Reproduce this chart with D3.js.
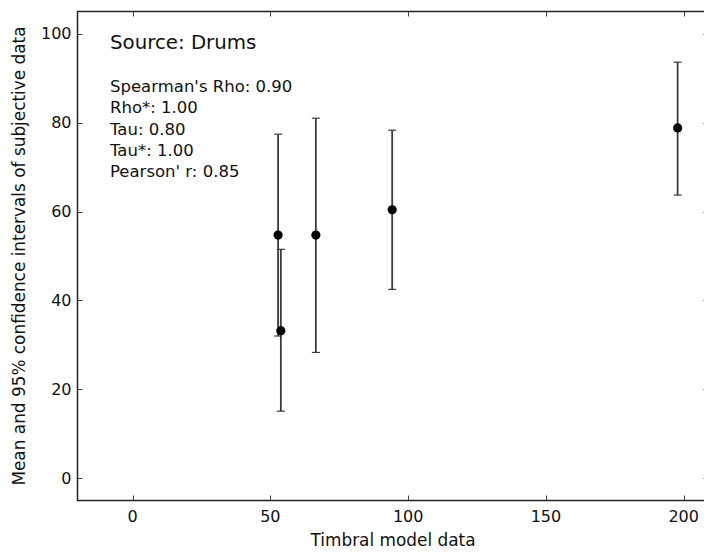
<!DOCTYPE html>
<html>
<head>
<meta charset="utf-8">
<script src="https://cdn.jsdelivr.net/npm/d3@7"></script>
<style>
  body { margin: 0; background: #fff; }
  text { font-family: "DejaVu Sans", sans-serif; fill: #111; }
</style>
</head>
<body>
<div id="chart"></div>
<script>
  // values
  const timbral = [52.8, 53.8, 66.5, 94.2, 197.8]
  const means = [54.7, 33.2, 54.7, 60.4, 78.8]
  const ciLow = [32.0, 15.1, 28.3, 42.5, 63.7]
  const ciHigh = [77.4, 51.5, 81.0, 78.3, 93.6]
  const xTicks = [0, 50, 100, 150, 200]
  const yTicks = [0, 20, 40, 60, 80, 100]
  const sourceLabel = "Source: Drums"
  const statLines = ["Spearman's Rho: 0.90", "Rho*: 1.00", "Tau: 0.80", "Tau*: 1.00", "Pearson' r: 0.85"]

  const width = 704
  const height = 552
  const plotLeft = 77.5, plotRight = 708.5, plotTop = 11.5, plotBottom = 500.5

  const svg = d3.select("#chart")
    .append("svg")
    .attr("width", width)
    .attr("height", height)

  const x = d3.scaleLinear().domain([-20, 209]).range([plotLeft, plotRight])
  const y = d3.scaleLinear().domain([-5, 105]).range([plotBottom, plotTop])

  const points = timbral.map((t, i) => ({ x: t, mean: means[i], lo: ciLow[i], hi: ciHigh[i] }))

  // inward ticks on all four sides, classic matplotlib look
  const tickLen = 5
  const ticks = svg.append("g").attr("stroke", "#444").attr("stroke-width", 1)
  xTicks.forEach(v => {
    const px = Math.round(x(v)) + 0.5
    ticks.append("line").attr("x1", px).attr("x2", px).attr("y1", plotBottom).attr("y2", plotBottom - tickLen)
    ticks.append("line").attr("x1", px).attr("x2", px).attr("y1", plotTop).attr("y2", plotTop + tickLen)
  })
  yTicks.forEach(v => {
    const py = Math.round(y(v)) + 0.5
    ticks.append("line").attr("x1", plotLeft).attr("x2", plotLeft + tickLen).attr("y1", py).attr("y2", py)
    ticks.append("line").attr("x1", plotRight).attr("x2", plotRight - tickLen).attr("y1", py).attr("y2", py)
  })

  // tick labels
  svg.append("g")
    .attr("font-size", 16)
    .attr("text-anchor", "middle")
    .selectAll("text")
    .data(xTicks)
    .join("text")
      .attr("x", d => x(d))
      .attr("y", plotBottom + 21)
      .text(d => d)

  svg.append("g")
    .attr("font-size", 16)
    .attr("text-anchor", "end")
    .selectAll("text")
    .data(yTicks)
    .join("text")
      .attr("x", plotLeft - 6)
      .attr("y", d => y(d))
      .attr("dy", "0.36em")
      .text(d => d)

  // error bars
  const bars = svg.append("g")
    .attr("stroke", "#3a3a3a")
    .attr("stroke-width", 1.8)
    .selectAll("g")
    .data(points)
    .join("g")

  bars.append("line")
    .attr("x1", d => x(d.x)).attr("x2", d => x(d.x))
    .attr("y1", d => y(d.lo)).attr("y2", d => y(d.hi))
  bars.append("line")
    .attr("x1", d => x(d.x) - 4).attr("x2", d => x(d.x) + 4)
    .attr("y1", d => y(d.lo)).attr("y2", d => y(d.lo))
    .attr("stroke-width", 1.2)
  bars.append("line")
    .attr("x1", d => x(d.x) - 4).attr("x2", d => x(d.x) + 4)
    .attr("y1", d => y(d.hi)).attr("y2", d => y(d.hi))
    .attr("stroke-width", 1.2)

  svg.append("g")
    .selectAll("circle")
    .data(points)
    .join("circle")
      .attr("cx", d => x(d.x))
      .attr("cy", d => y(d.mean))
      .attr("r", 4.6)
      .attr("fill", "#000")

  // frame
  svg.append("rect")
    .attr("x", plotLeft).attr("y", plotTop)
    .attr("width", plotRight - plotLeft).attr("height", plotBottom - plotTop)
    .attr("fill", "none")
    .attr("stroke", "#222")
    .attr("stroke-width", 1.5)

  // annotation text
  svg.append("text")
    .attr("x", 110)
    .attr("y", 48.5)
    .attr("font-size", 19.8)
    .text(sourceLabel)

  svg.append("g")
    .attr("font-size", 16.5)
    .selectAll("text")
    .data(statLines)
    .join("text")
      .attr("x", 110)
      .attr("y", (d, i) => 92 + i * 21.3)
      .text(d => d)

  // axis labels
  svg.append("text")
    .attr("x", (plotLeft + plotRight) / 2)
    .attr("y", 546)
    .attr("text-anchor", "middle")
    .attr("font-size", 16.9)
    .text("Timbral model data")

  svg.append("text")
    .attr("transform", `translate(25,${(plotTop + plotBottom) / 2}) rotate(-90)`)
    .attr("text-anchor", "middle")
    .attr("font-size", 16.9)
    .text("Mean and 95% confidence intervals of subjective data")
</script>
</body>
</html>
